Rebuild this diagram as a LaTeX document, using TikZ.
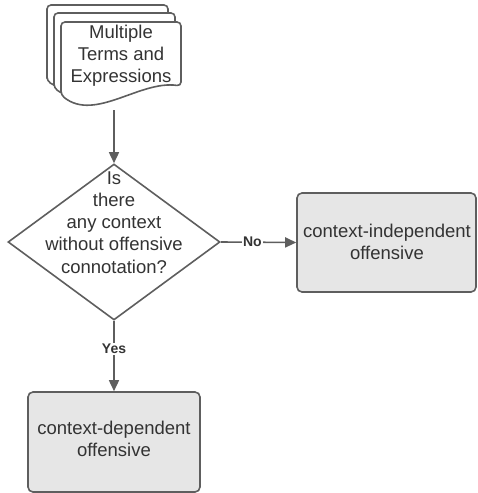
\documentclass[tikz,border=0pt]{standalone}
\usepackage{fontspec}
\setmainfont{Liberation Sans}
\usetikzlibrary{shapes.geometric,arrows.meta}
\definecolor{ln}{HTML}{5E5E5E}
\definecolor{bx}{HTML}{E6E6E6}
\definecolor{tx}{HTML}{333333}
\begin{document}
\begin{tikzpicture}[x=1pt,y=1pt,
  sheet/.style={draw=ln,fill=white,line width=1.6pt,rounded corners=4pt},
  outbox/.style={draw=ln,fill=bx,line width=1.6pt,rounded corners=5pt,inner sep=0pt},
  dia/.style={draw=ln,fill=white,line width=1.6pt,shape=diamond,inner sep=0pt,minimum width=212pt,minimum height=156pt},
  txt/.style={text=tx,align=center,font=\fontsize{18.5}{22.2}\selectfont,inner sep=0pt},
  lbl/.style={text=tx,font=\fontsize{14}{16}\selectfont\bfseries,fill=white,inner sep=1.5pt},
  conn/.style={draw=ln,line width=1.6pt,-{Triangle[length=11pt,width=10pt]}}
]
\useasboundingbox (0,0) rectangle (477,-493);
% document stack
\draw[sheet] (47,-81) -- (47,-5) -- (168,-5) -- (168,-70)
  .. controls (127,-66) and (81,-102) .. (47,-81) -- cycle;
\draw[sheet] (54,-88) -- (54,-13) -- (175,-13) -- (175,-78)
  .. controls (134,-72) and (88,-112) .. (54,-88) -- cycle;
\draw[sheet] (61,-95) -- (61,-22) -- (181,-22) -- (181,-86)
  .. controls (140,-80) and (95,-122) .. (61,-95) -- cycle;
\node[txt] (doc) at (121,-56) {Multiple\\Terms and\\Expressions};
\coordinate (docb) at (114,-110);
% decision
\node[dia] (q) at (114,-242) {};
\node[txt] (qt) at (114,-222.5) {Is\\there\\any context\\without offensive\\connotation?};
% outcomes
\node[outbox,minimum width=179pt,minimum height=99pt] (ind) at (386.5,-242.5) {};
\node[txt] (indt) at (387,-242) {context-independent\\offensive};
\node[outbox,minimum width=172pt,minimum height=100pt] (dep) at (114,-442) {};
\node[txt] (dept) at (114,-439) {context-dependent\\offensive};
% connectors
\draw[conn] (docb) -- (q.north);
\draw[conn] (q.east) -- (ind.west) node[lbl,pos=0.42] (no) {No};
\draw[conn] (q.south) -- (dep.north) node[lbl,pos=0.4] (yes) {Yes};
\end{tikzpicture}
\end{document}
